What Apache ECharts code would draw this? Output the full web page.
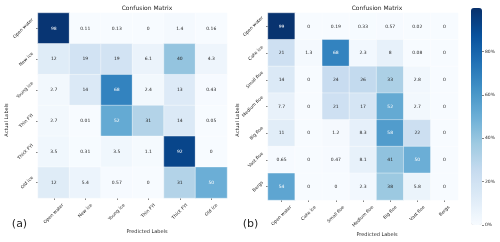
<!DOCTYPE html>
<html><head><meta charset="utf-8">
<script src="https://cdn.jsdelivr.net/npm/echarts@6/dist/echarts.min.js"></script>
<style>html,body{margin:0;padding:0;background:#fff}#c{width:500px;height:242px}</style>
</head><body><div id="c"></div>
<script>
// ---- data ----
const labelsA = ['Open water', 'New ice', 'Young ice', 'Thin FYI', 'Thick FYI', 'Old ice'];
const matrixA = [
  [98, 0.11, 0.13, 0, 1.4, 0.16],
  [12, 19, 19, 6.1, 40, 4.3],
  [2.7, 14, 68, 2.4, 13, 0.43],
  [2.7, 0.01, 52, 31, 14, 0.05],
  [3.5, 0.31, 3.5, 1.1, 92, 0],
  [12, 5.4, 0.57, 0, 31, 50]
];
const labelsB = ['Open water', 'Cake ice', 'Small floe', 'Medium floe', 'Big floe', 'Vast floe', 'Bergs'];
const matrixB = [
  [99, 0, 0.19, 0.33, 0.57, 0.02, 0],
  [21, 1.3, 68, 2.3, 8, 0.08, 0],
  [14, 0, 24, 26, 33, 2.8, 0],
  [7.7, 0, 21, 17, 52, 2.7, 0],
  [11, 0, 1.2, 8.3, 58, 22, 0],
  [0.65, 0, 0.47, 8.1, 41, 50, 0],
  [54, 0, 0, 2.3, 38, 5.8, 0]
];
const colorbarTicks = [0, 20, 40, 60, 80];
const colorMin = 0, colorMax = 100;

// ---- style ----
const FONT = 'DejaVu Sans';
const LBL = 4.5;
const TXT = '#262626';
const BLUES = ['#f7fbff', '#deebf7', '#c6dbef', '#9ecae1', '#6baed6', '#4292c6', '#2171b5', '#08519c', '#08306b'];

const ctx = document.createElement('canvas').getContext('2d');
ctx.font = LBL + 'px "' + FONT + '"';
const tw = s => ctx.measureText(s).width;
const H = LBL * 0.9;

function toData(m) {
  const d = [];
  m.forEach((row, i) => row.forEach((v, j) => d.push([j, i, v])));
  return d;
}

function xLabel(labels, margin) {
  const rich = {};
  labels.forEach((s, i) => {
    const a = 0.354 * (tw(s) + H) / 1.414;
    rich['p' + i] = { padding: [2 * a, 2 * a, 0, 0], fontSize: LBL, fontFamily: FONT, color: TXT };
  });
  return { interval: 0, rotate: 45, align: 'center', verticalAlign: 'middle', margin,
    fontSize: LBL, fontFamily: FONT, color: TXT, formatter: (v, i) => '{p' + i + '|' + v + '}', rich };
}
function yLabel(labels, margin) {
  const rich = {};
  labels.forEach((s, i) => {
    const a = 0.354 * (tw(s) + H) / 1.414;
    rich['p' + i] = { padding: [0, 2 * a, 2 * a, 0], fontSize: LBL, fontFamily: FONT, color: TXT };
  });
  return { interval: 0, rotate: 45, align: 'center', verticalAlign: 'middle', margin,
    fontSize: LBL, fontFamily: FONT, color: TXT, formatter: (v, i) => '{p' + i + '|' + v + '}', rich };
}

const tick = { show: true, alignWithLabel: true, length: 2, lineStyle: { color: '#333', width: 0.6 } };

function cellLabel() {
  return {
    show: true, fontSize: LBL, fontFamily: FONT,
    formatter: p => (p.value[2] > 45 ? '{w|' : '{d|') + String(p.value[2]) + '}',
    rich: { w: { color: '#ffffff', fontSize: LBL, fontFamily: FONT }, d: { color: TXT, fontSize: LBL, fontFamily: FONT } }
  };
}

function txt(text, x, y, size, rot) {
  return { type: 'text', x, y, rotation: rot || 0, silent: true,
    style: { text, fontSize: size, fontFamily: FONT, fill: TXT, align: 'center', verticalAlign: 'middle' } };
}

const chart = echarts.init(document.getElementById('c'), null, { renderer: 'canvas' });
chart.setOption({
  animation: false,
  backgroundColor: '#ffffff',
  grid: [
    { left: 38, top: 13, width: 189, height: 185 },
    { left: 268, top: 13, width: 190, height: 187 },
    { left: 471, top: 8, width: 11, height: 217 }
  ],
  xAxis: [
    { type: 'category', gridIndex: 0, data: labelsA, axisLine: { show: false }, axisTick: tick, splitLine: { show: false }, axisLabel: xLabel(labelsA, 5) },
    { type: 'category', gridIndex: 1, data: labelsB, axisLine: { show: false }, axisTick: tick, splitLine: { show: false }, axisLabel: xLabel(labelsB, 5) },
    { type: 'category', gridIndex: 2, show: false, data: ['c'] }
  ],
  yAxis: [
    { type: 'category', gridIndex: 0, inverse: true, data: labelsA, axisLine: { show: false }, axisTick: tick, splitLine: { show: false }, axisLabel: yLabel(labelsA, 4) },
    { type: 'category', gridIndex: 1, inverse: true, data: labelsB, axisLine: { show: false }, axisTick: tick, splitLine: { show: false }, axisLabel: yLabel(labelsB, 4) },
    { type: 'value', gridIndex: 2, position: 'right', min: colorMin, max: colorMax,
      axisLine: { show: false }, splitLine: { show: false },
      axisTick: { show: true, length: 2, lineStyle: { color: '#333', width: 0.6 }, customValues: colorbarTicks },
      axisLabel: { customValues: colorbarTicks, margin: 3, fontSize: LBL, fontFamily: FONT, color: TXT, formatter: v => v + '%' } }
  ],
  visualMap: {
    type: 'continuous', min: colorMin, max: colorMax, seriesIndex: [0, 1], calculable: false, show: true,
    left: 471, top: 8, itemWidth: 11, itemHeight: 217, padding: 0, orient: 'vertical',
    inRange: { color: BLUES }
  },
  series: [
    { type: 'heatmap', xAxisIndex: 0, yAxisIndex: 0, data: toData(matrixA), label: cellLabel(),
      itemStyle: { borderColor: '#ffffff', borderWidth: 0.4 }, emphasis: { disabled: true } },
    { type: 'heatmap', xAxisIndex: 1, yAxisIndex: 1, data: toData(matrixB), label: cellLabel(),
      itemStyle: { borderColor: '#ffffff', borderWidth: 0.4 }, emphasis: { disabled: true } }
  ],
  graphic: [
    txt('Confusion Matrix', 147, 8, 6),
    txt('Confusion Matrix', 377, 8, 6),
    txt('Predicted Labels', 147, 232, 5),
    txt('Predicted Labels', 377, 235, 5),
    txt('Actual Labels', 7, 120, 5, Math.PI / 2),
    txt('Actual Labels', 238, 120, 5, Math.PI / 2),
    txt('(a)', 19.5, 224, 11),
    txt('(b)', 250.5, 224, 11)
  ]
});
</script>
</body></html>
